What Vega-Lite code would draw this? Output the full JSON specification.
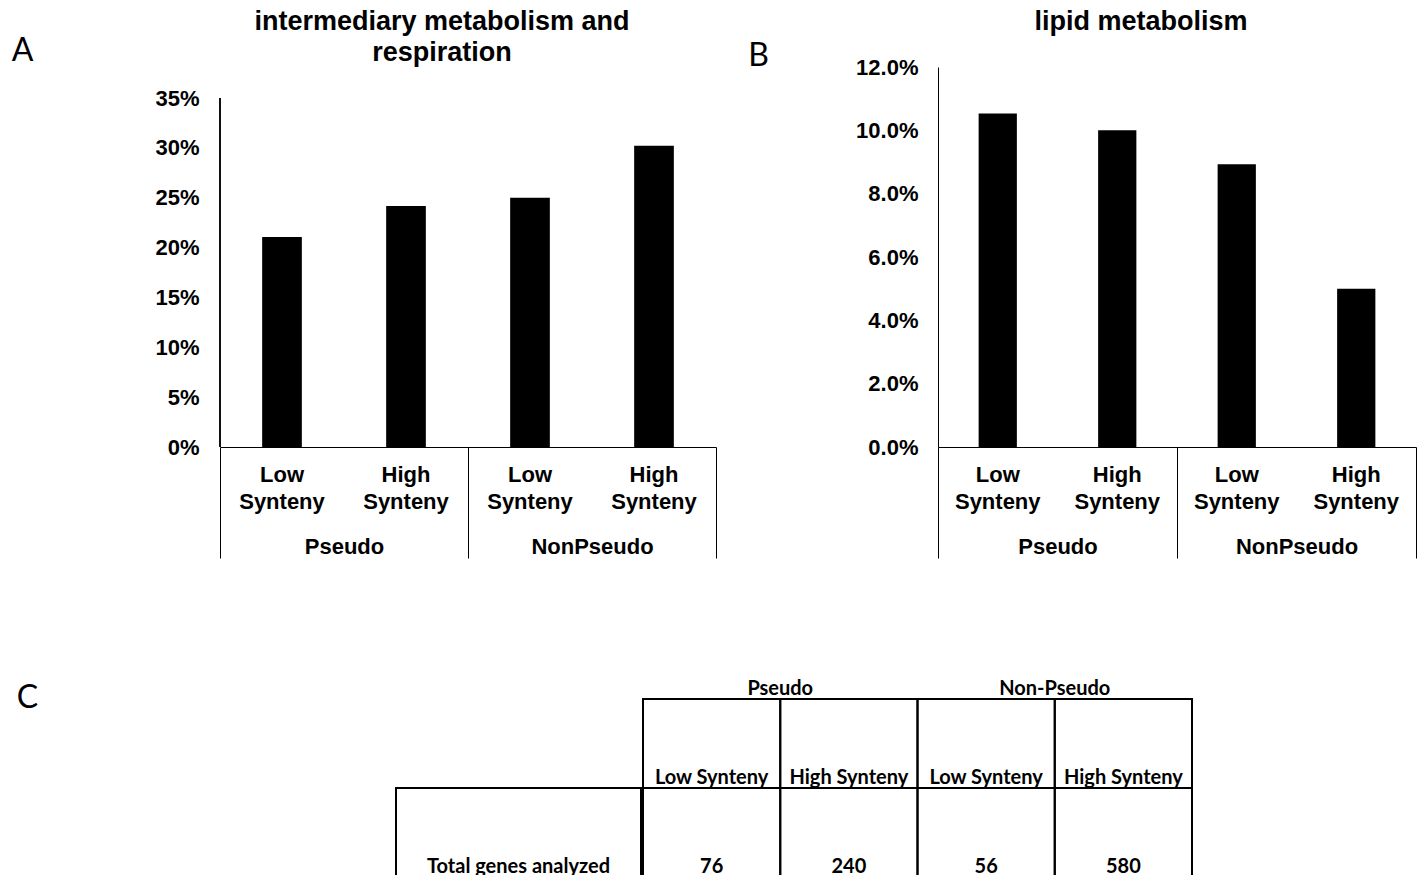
{
  "$schema": "https://vega.github.io/schema/vega-lite/v6.json",
  "background": "white",
  "padding": {"left": 11, "top": 8, "right": 0, "bottom": 0},
  "datasets": {
    "intermediary": [
      {"group": "Pseudo", "synteny": "Low Synteny", "value": 0.2105},
      {"group": "Pseudo", "synteny": "High Synteny", "value": 0.2417},
      {"group": "NonPseudo", "synteny": "Low Synteny", "value": 0.25},
      {"group": "NonPseudo", "synteny": "High Synteny", "value": 0.302}
    ],
    "lipid": [
      {"group": "Pseudo", "synteny": "Low Synteny", "value": 0.1053},
      {"group": "Pseudo", "synteny": "High Synteny", "value": 0.1},
      {"group": "NonPseudo", "synteny": "Low Synteny", "value": 0.0893},
      {"group": "NonPseudo", "synteny": "High Synteny", "value": 0.05}
    ],
    "table": [
      {"group": "Pseudo", "synteny": "Low Synteny", "row": "Header", "text": "Low Synteny"},
      {"group": "Pseudo", "synteny": "High Synteny", "row": "Header", "text": "High Synteny"},
      {"group": "Non-Pseudo", "synteny": "Low Synteny", "row": "Header", "text": "Low Synteny"},
      {"group": "Non-Pseudo", "synteny": "High Synteny", "row": "Header", "text": "High Synteny"},
      {"group": "Pseudo", "synteny": "Low Synteny", "row": "Total", "text": "76"},
      {"group": "Pseudo", "synteny": "High Synteny", "row": "Total", "text": "240"},
      {"group": "Non-Pseudo", "synteny": "Low Synteny", "row": "Total", "text": "56"},
      {"group": "Non-Pseudo", "synteny": "High Synteny", "row": "Total", "text": "580"}
    ],
    "tableLabel": [
      {"column": "Label", "row": "Total", "text": "Total genes analyzed"}
    ]
  },
  "config": {
    "view": {"stroke": null},
    "font": "Liberation Sans"
  },
  "spacing": 119,
  "resolve": {"scale": {"x": "independent", "y": "independent", "xOffset": "independent"}},
  "vconcat": [
    {
      "spacing": 30,
      "resolve": {"scale": {"x": "independent", "y": "independent", "xOffset": "independent"}},
      "hconcat": [
        {
          "width": 496,
          "height": 380,
          "data": {"name": "intermediary"},
          "title": {
            "text": ["intermediary metabolism and", "respiration"],
            "fontSize": 27, "fontWeight": "bold", "font": "Liberation Sans", "color": "black",
            "lineHeight": 31, "offset": -33, "dx": -26, "anchor": "middle"
          },
          "encoding": {
            "x": {
              "field": "group", "type": "nominal", "sort": ["Pseudo", "NonPseudo"],
              "scale": {"paddingInner": 0, "paddingOuter": 0},
              "axis": {
                "title": null, "orient": "bottom", "labelAngle": 0,
                "tickBand": "extent", "tickSize": 111, "tickColor": "black", "tickWidth": 1,
                "domainColor": "black", "domainWidth": 1,
                "labelPadding": -12, "labelBaseline": "middle",
                "labelFontSize": 22, "labelFontWeight": "bold", "labelFont": "Liberation Sans", "labelColor": "black"
              }
            }
          },
          "layer": [
            {
              "mark": {"type": "bar", "color": "black"},
              "encoding": {
                "xOffset": {
                  "field": "synteny", "type": "nominal", "sort": ["Low Synteny", "High Synteny"],
                  "scale": {"paddingInner": 0.68, "paddingOuter": 0.34}
                },
                "y": {
                  "field": "value", "type": "quantitative",
                  "scale": {"domain": [0, 0.3811], "nice": false},
                  "axis": {
                    "title": "A", "values": [0, 0.05, 0.1, 0.15, 0.2, 0.25, 0.3, 0.35], "format": "%",
                    "ticks": false, "tickSize": 0, "grid": false, "domain": false,
                    "labelPadding": 21, "labelFontSize": 22, "labelFontWeight": "bold", "labelFont": "Liberation Sans", "labelColor": "black",
                    "titleAngle": 0, "titleX": -198, "titleY": -17, "titleAlign": "center", "titleBaseline": "middle",
                    "titleFont": "Lato", "titleFontWeight": "normal", "titleFontSize": 32, "titleColor": "black"
                  }
                }
              }
            },
            {
              "mark": {"type": "rule", "color": "black", "strokeWidth": 1},
              "encoding": {
                "x": {"datum": "Pseudo", "bandPosition": 0},
                "y": {"datum": 0},
                "y2": {"datum": 0.35}
              }
            },
            {
              "mark": {"type": "text", "lineBreak": " ", "baseline": "top", "dy": 18, "fontSize": 22, "fontWeight": "bold", "font": "Liberation Sans", "color": "black", "lineHeight": 27},
              "encoding": {
                "xOffset": {
                  "field": "synteny", "type": "nominal", "sort": ["Low Synteny", "High Synteny"],
                  "scale": {"paddingInner": 0.68, "paddingOuter": 0.34}
                },
                "y": {"datum": 0},
                "text": {"field": "synteny"}
              }
            }
          ]
        },
        {
          "width": 478,
          "height": 380,
          "data": {"name": "lipid"},
          "title": {
            "text": "lipid metabolism",
            "fontSize": 27, "fontWeight": "bold", "font": "Liberation Sans", "color": "black",
            "offset": 3, "dx": -36, "anchor": "middle"
          },
          "encoding": {
            "x": {
              "field": "group", "type": "nominal", "sort": ["Pseudo", "NonPseudo"],
              "scale": {"paddingInner": 0, "paddingOuter": 0},
              "axis": {
                "title": null, "orient": "bottom", "labelAngle": 0,
                "tickBand": "extent", "tickSize": 111, "tickColor": "black", "tickWidth": 1,
                "domainColor": "black", "domainWidth": 1,
                "labelPadding": -12, "labelBaseline": "middle",
                "labelFontSize": 22, "labelFontWeight": "bold", "labelFont": "Liberation Sans", "labelColor": "black"
              }
            },
            "xOffset": {
              "field": "synteny", "type": "nominal", "sort": ["Low Synteny", "High Synteny"],
              "scale": {"paddingInner": 0.68, "paddingOuter": 0.34}
            }
          },
          "layer": [
            {
              "mark": {"type": "bar", "color": "black"},
              "encoding": {
                "y": {
                  "field": "value", "type": "quantitative",
                  "scale": {"domain": [0, 0.12], "nice": false},
                  "axis": {
                    "title": "B", "values": [0, 0.02, 0.04, 0.06, 0.08, 0.1, 0.12], "format": ".1%",
                    "ticks": false, "tickSize": 0, "grid": false,
                    "domainColor": "black", "domainWidth": 1,
                    "labelPadding": 20, "labelFontSize": 22, "labelFontWeight": "bold", "labelFont": "Liberation Sans", "labelColor": "black",
                    "titleAngle": 0, "titleX": -180, "titleY": -12, "titleAlign": "center", "titleBaseline": "middle",
                    "titleFont": "Lato", "titleFontWeight": "normal", "titleFontSize": 32, "titleColor": "black"
                  }
                }
              }
            },
            {
              "mark": {"type": "text", "lineBreak": " ", "baseline": "top", "dy": 18, "fontSize": 22, "fontWeight": "bold", "font": "Liberation Sans", "color": "black", "lineHeight": 27},
              "encoding": {
                "y": {"datum": 0},
                "text": {"field": "synteny"}
              }
            }
          ]
        }
      ]
    },
    {
      "spacing": 0,
      "resolve": {"scale": {"x": "independent", "y": "independent", "xOffset": "independent"}},
      "hconcat": [
        {
          "width": 421,
          "height": 178,
          "data": {"name": "tableLabel"},
          "encoding": {
            "x": {
              "field": "column", "type": "nominal",
              "scale": {"domain": ["Label"], "paddingInner": 0, "paddingOuter": 0.3592, "align": 1},
              "axis": null
            },
            "y": {
              "field": "row", "type": "nominal",
              "scale": {"domain": ["Header", "Total"], "paddingInner": 0, "paddingOuter": 0},
              "axis": {
                "title": "C", "labels": false, "ticks": false, "domain": false, "grid": false,
                "titleAngle": 0, "titleX": -193, "titleY": -2, "titleAlign": "center", "titleBaseline": "middle",
                "titleFont": "Lato", "titleFontWeight": "normal", "titleFontSize": 32, "titleColor": "black"
              }
            }
          },
          "layer": [
            {"mark": {"type": "rect", "filled": false, "stroke": "black", "strokeWidth": 2}},
            {
              "mark": {"type": "text", "dy": 34, "baseline": "middle", "font": "Lato", "fontWeight": "bold", "fontSize": 20, "color": "black"},
              "encoding": {"text": {"field": "text"}}
            }
          ]
        },
        {
          "width": 549,
          "height": 178,
          "data": {"name": "table"},
          "encoding": {
            "x": {
              "field": "group", "type": "nominal", "sort": ["Pseudo", "Non-Pseudo"],
              "scale": {"paddingInner": 0, "paddingOuter": 0},
              "axis": {
                "orient": "top", "title": null, "ticks": false, "domain": false, "labelAngle": 0,
                "labelPadding": 11, "labelBaseline": "middle",
                "labelFontSize": 20, "labelFont": "Lato", "labelFontWeight": "bold", "labelColor": "black"
              }
            },
            "xOffset": {
              "field": "synteny", "type": "nominal", "sort": ["Low Synteny", "High Synteny"],
              "scale": {"paddingInner": 0, "paddingOuter": 0}
            },
            "y": {
              "field": "row", "type": "nominal", "sort": ["Header", "Total"],
              "scale": {"paddingInner": 0, "paddingOuter": 0},
              "axis": null
            }
          },
          "layer": [
            {"mark": {"type": "rect", "filled": false, "stroke": "black", "strokeWidth": 2}},
            {
              "mark": {"type": "text", "dy": 34, "baseline": "middle", "font": "Lato", "fontWeight": "bold", "fontSize": 20, "color": "black"},
              "encoding": {"text": {"field": "text"}}
            }
          ]
        }
      ]
    }
  ]
}
